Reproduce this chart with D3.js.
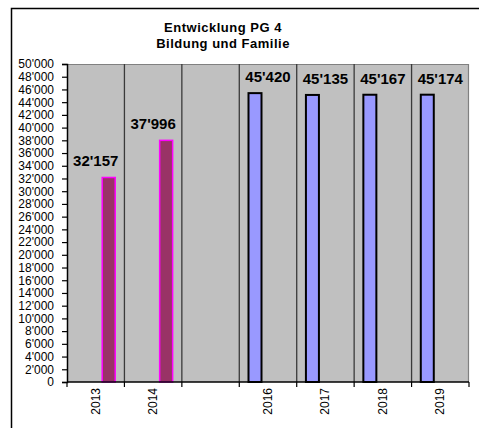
<!DOCTYPE html>
<html>
<head>
<meta charset="utf-8">
<script src="https://cdn.jsdelivr.net/npm/d3@7"></script>
<style>
  html, body { margin: 0; padding: 0; background: #fff; }
  svg { display: block; font-family: "Liberation Sans", Arial, sans-serif; }
</style>
</head>
<body>
<svg id="chart" width="479" height="428"></svg>
<script>
// Years on the category axis (2015 has no value and no label)
const years = ["2013", "2014", "2015", "2016", "2017", "2018", "2019"];
const yearLabels = ["2013", "2014", "", "2016", "2017", "2018", "2019"];
// Actual figures (Rechnung)
const actualValues = [32157, 37996, null, null, null, null, null];
// Planned figures (Budget / Finanzplan)
const planValues = [null, null, null, 45420, 45135, 45167, 45174];
// Value axis ticks
const yTicks = d3.range(0, 50001, 2000);
const titleLines = ["Entwicklung PG 4", "Bildung und Familie"];

const svg = d3.select("#chart");
const W = 479, H = 428;
const plot = { left: 67, right: 469, top: 64, bottom: 382 };

const fmt = v => d3.format(",")(v).replace(/,/g, "'");

// Outer chart frame (continues past the right and bottom edges)
svg.append("path")
  .attr("d", `M11.5,${H + 2} V8.5 H${W + 2}`)
  .attr("fill", "none").attr("stroke", "#000").attr("stroke-width", 1.5);

const x = d3.scaleBand().domain(years).range([plot.left, plot.right]).padding(0);
const y = d3.scaleLinear().domain([0, 50000]).range([plot.bottom, plot.top]);
const seriesOffset = d3.scalePoint().domain(["plan", "actual"]).range([-13, 13]);
const barW = 13;

// Plot area background
svg.append("rect")
  .attr("x", plot.left).attr("y", plot.top)
  .attr("width", plot.right - plot.left).attr("height", plot.bottom - plot.top)
  .attr("fill", "#c0c0c0");

// Plot area top and right border
svg.append("path")
  .attr("d", `M${plot.left},${plot.top + 0.5} H${plot.right - 0.5} V${plot.bottom}`)
  .attr("fill", "none").attr("stroke", "#808080").attr("stroke-width", 1.2);

// Vertical gridlines between categories
svg.append("g").selectAll("line")
  .data(years.slice(1))
  .join("line")
  .attr("x1", d => x(d)).attr("x2", d => x(d))
  .attr("y1", plot.top).attr("y2", plot.bottom)
  .attr("stroke", "#3a3a3a").attr("stroke-width", 1.3);

// Bars
function drawBars(values, key, fill, stroke, sw) {
  const data = years.map((yr, i) => ({ yr, v: values[i] })).filter(d => d.v != null);
  svg.append("g").selectAll("rect")
    .data(data)
    .join("rect")
    .attr("x", d => x(d.yr) + x.bandwidth() / 2 + seriesOffset(key) - barW / 2)
    .attr("y", d => y(d.v))
    .attr("width", barW)
    .attr("height", d => y(0) - y(d.v))
    .attr("fill", fill).attr("stroke", stroke).attr("stroke-width", sw);
  // Value labels centred over the category
  svg.append("g").selectAll("text")
    .data(data)
    .join("text")
    .attr("x", d => x(d.yr) + x.bandwidth() / 2)
    .attr("y", d => y(d.v) - 11)
    .attr("text-anchor", "middle")
    .attr("font-size", "15px").attr("font-weight", "bold").attr("fill", "#000")
    .text(d => fmt(d.v));
}
drawBars(actualValues, "actual", "#993366", "#ff00ff", 1.5);
drawBars(planValues, "plan", "#9999ff", "#000", 2);

// Y axis
const yAxis = svg.append("g")
  .attr("transform", `translate(${plot.left},0)`)
  .call(d3.axisLeft(y).tickValues(yTicks).tickFormat(fmt).tickSize(5).tickPadding(8));
yAxis.select(".domain").attr("stroke", "#000").attr("stroke-width", 1.5);
yAxis.selectAll(".tick line").attr("stroke", "#000").attr("stroke-width", 1.2);
yAxis.selectAll(".tick text")
  .attr("font-family", "'Liberation Sans', Arial, sans-serif")
  .attr("font-size", "12px").attr("fill", "#000");

// X axis: ticks at category boundaries, labels rotated
const xAxisG = svg.append("g").attr("transform", `translate(0,${plot.bottom})`);
xAxisG.append("line")
  .attr("x1", plot.left).attr("x2", plot.right)
  .attr("stroke", "#000").attr("stroke-width", 1.5);
xAxisG.selectAll("line.tk")
  .data(years.map(d => x(d)).concat([plot.right]))
  .join("line").attr("class", "tk")
  .attr("x1", d => d).attr("x2", d => d).attr("y1", 0).attr("y2", 5)
  .attr("stroke", "#000").attr("stroke-width", 1.2);
xAxisG.selectAll("text")
  .data(years)
  .join("text")
  .attr("transform", d => `translate(${x(d) + x.bandwidth() / 2 + 4},6) rotate(-90)`)
  .attr("text-anchor", "end")
  .attr("font-size", "12px").attr("fill", "#000")
  .text((d, i) => yearLabels[i]);

// Title
svg.append("g").selectAll("text")
  .data(titleLines)
  .join("text")
  .attr("x", 223).attr("y", (d, i) => 32 + i * 16)
  .attr("text-anchor", "middle")
  .attr("font-size", "13px").attr("font-weight", "bold")
  .attr("letter-spacing", "0.5px").attr("fill", "#000")
  .text(d => d);
</script>
</body>
</html>
